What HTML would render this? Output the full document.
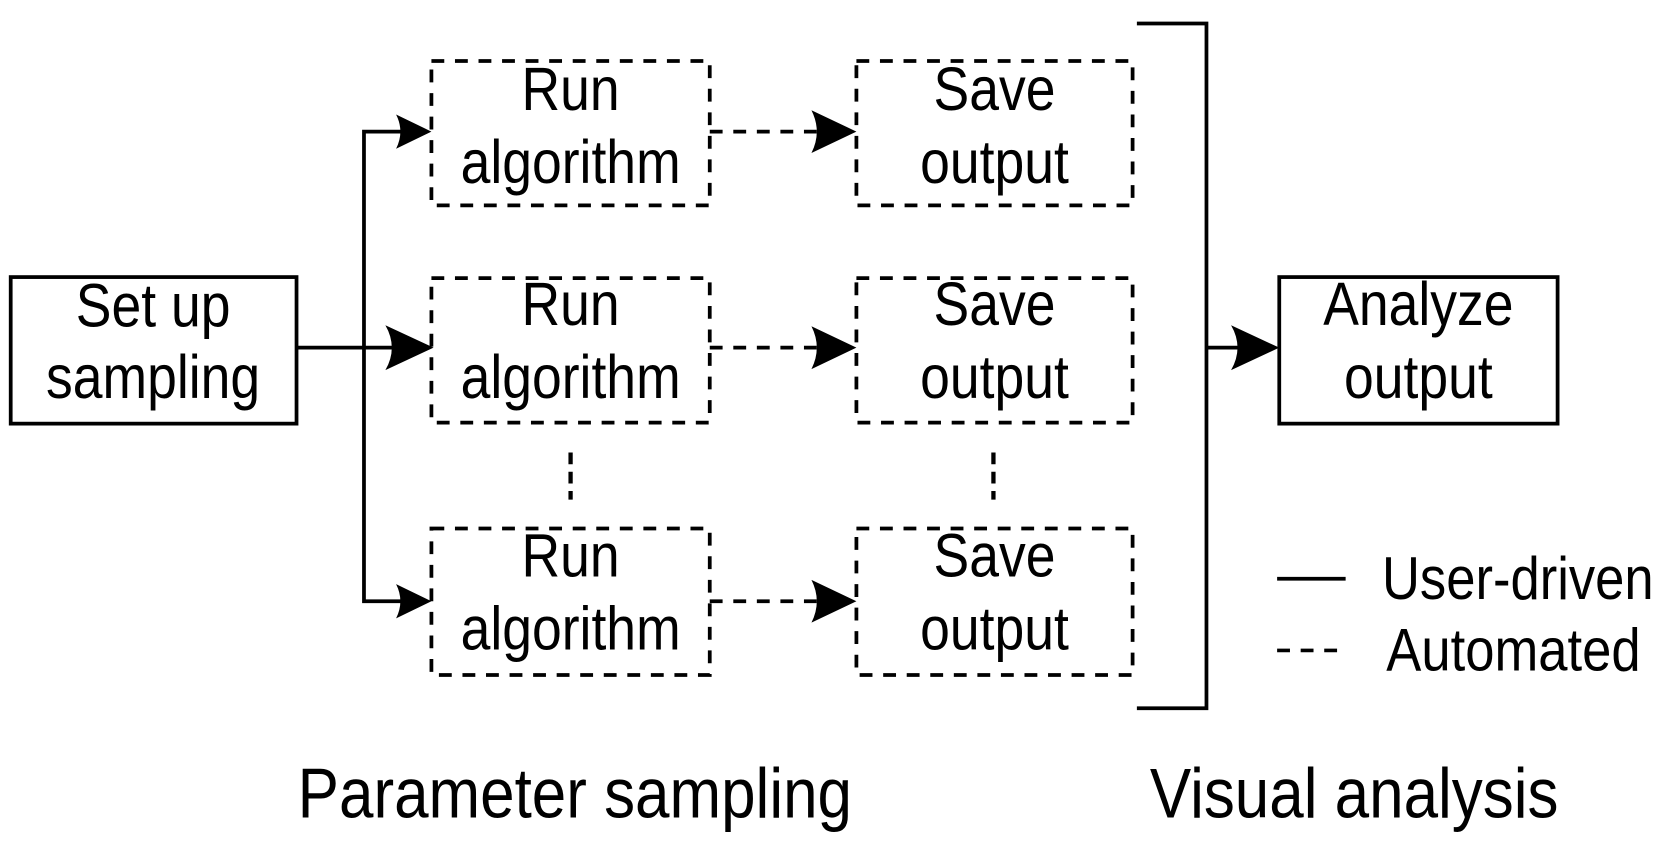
<!DOCTYPE html>
<html><head><style>html,body{margin:0;padding:0;background:#fff;}svg{display:block}text{font-family:"Liberation Sans",Arial,sans-serif;}</style></head>
<body>
<svg width="1670" height="843" viewBox="0 0 1560 788" preserveAspectRatio="none" xmlns="http://www.w3.org/2000/svg">
<rect width="1560" height="788" fill="#fff"/>
<g fill="none" stroke="#000" stroke-width="3.5">
<rect x="10" y="259" width="267" height="137"/>
<rect x="1195" y="259" width="260" height="137"/>
<g stroke-dasharray="12 10">
<rect x="403" y="57" width="260" height="135"/>
<rect x="403" y="260" width="260" height="135"/>
<rect x="403" y="494" width="260" height="137"/>
<rect x="800" y="57" width="258" height="135"/>
<rect x="800" y="260" width="258" height="135"/>
<rect x="800" y="494" width="258" height="137"/>
<line x1="663" y1="123" x2="770" y2="123"/>
<line x1="663" y1="325" x2="770" y2="325"/>
<line x1="663" y1="562" x2="770" y2="562"/>
<line x1="1193" y1="608" x2="1257" y2="608"/>
</g>
<line x1="533" y1="423" x2="533" y2="467" stroke-width="4" stroke-dasharray="11 7"/>
<line x1="928" y1="423" x2="928" y2="467" stroke-width="4" stroke-dasharray="11 7"/>
<polyline points="1062,22 1127,22 1127,662 1062,662"/>
<line x1="1127" y1="325" x2="1165" y2="325"/>
<line x1="277" y1="325" x2="370" y2="325"/>
<polyline points="375,123 340,123 340,562 375,562"/>
<line x1="1193" y1="541" x2="1257" y2="541"/>
</g>
<g fill="#000">
<path d="M403,123 L370,107 Q378,123 370,139 Z"/>
<path d="M403,562 L370,546 Q378,562 370,578 Z"/>
<path d="M405,325 L360,304 Q372,325 360,346 Z"/>
<path d="M800,123 L758,103 Q768,123 758,143 Z"/>
<path d="M800,325 L758,305 Q768,325 758,345 Z"/>
<path d="M800,562 L758,542 Q768,562 758,582 Z"/>
<path d="M1195,325 L1150,304 Q1162,325 1150,346 Z"/>
</g>
<g transform="scale(0.877,1)" fill="#000">
<g font-size="57" text-anchor="middle">
<text x="163.1" y="305">Set up</text><text x="163.1" y="372">sampling</text>
<text x="607.8" y="103">Run</text><text x="607.8" y="171">algorithm</text>
<text x="607.8" y="304">Run</text><text x="607.8" y="372">algorithm</text>
<text x="607.8" y="539">Run</text><text x="607.8" y="607">algorithm</text>
<text x="1059.3" y="103">Save</text><text x="1059.3" y="171">output</text>
<text x="1059.3" y="304">Save</text><text x="1059.3" y="372">output</text>
<text x="1059.3" y="539">Save</text><text x="1059.3" y="607">output</text>
<text x="1510.8" y="304">Analyze</text><text x="1510.8" y="372">output</text>
</g>
<g font-size="56">
<text x="1472" y="560">User-driven</text>
<text x="1476.6" y="627">Automated</text>
</g>
<g font-size="66" text-anchor="middle">
<text x="612.3" y="764">Parameter sampling</text>
<text x="1442.4" y="764">Visual analysis</text>
</g>
</g>
</svg>
</body></html>
